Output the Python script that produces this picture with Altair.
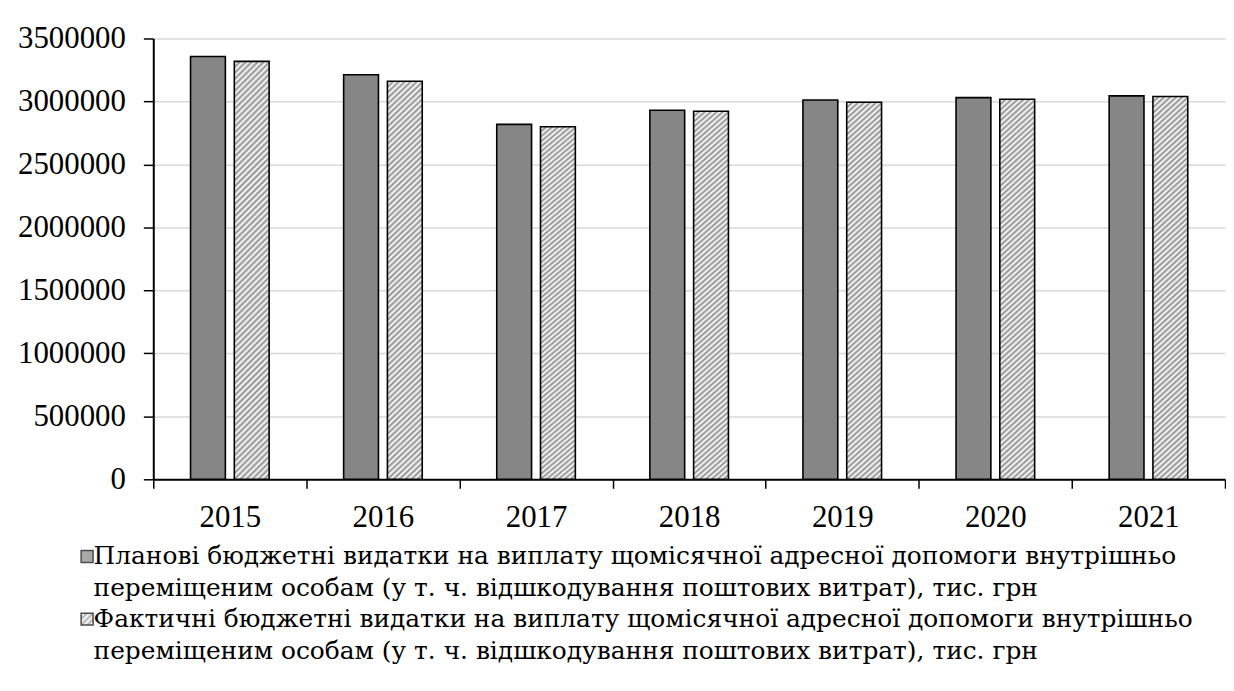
import altair as alt
import pandas as pd

years = ["2015", "2016", "2017", "2018", "2019", "2020", "2021"]
plan = [3357000, 3212000, 2818000, 2930000, 3012000, 3030000, 3044000]
fact = [3318000, 3160000, 2799000, 2922000, 2994000, 3017000, 3039000]
series_names = [
    "Планові бюджетні видатки на виплату щомісячної адресної допомоги внутрішньо\nпереміщеним особам (у т. ч. відшкодування поштових витрат), тис. грн",
    "Фактичні бюджетні видатки на виплату щомісячної адресної допомоги внутрішньо\nпереміщеним особам (у т. ч. відшкодування поштових витрат), тис. грн",
]
keys = ["plan", "fact"]
y_ticks = [0, 500000, 1000000, 1500000, 2000000, 2500000, 3000000, 3500000]

rows = []
for i, y in enumerate(years):
    rows.append({"year": y, "key": keys[0], "series": series_names[0], "value": plan[i]})
    rows.append({"year": y, "key": keys[1], "series": series_names[1], "value": fact[i]})
df = pd.DataFrame(rows)

FONT = "Liberation Serif"
LEG_FONT = "DejaVu Serif"
DOT_GRAY = "#868686"
STRIPE_GRAY = "#8e8e8e"

# diagonal stripe gradient for the tall bars (style only)
bw, bh, period = 35.0, 420.0, 6.0
r = bw / bh
c = (1 + r) / (1 + r * r)
P = period / (bw + bh)
stops = []
k = 0
while k * P / 2 <= 1:
    stops.append({"offset": round(k * P / 2, 5), "color": STRIPE_GRAY if k % 2 == 0 else "#ffffff"})
    k += 1
bar_grad = {"gradient": "linear", "x1": 0, "y1": 0, "x2": round(c * r, 5), "y2": round(c, 5), "stops": stops}

# stripe gradient for the small legend square
lstops = []
for j in range(9):
    lstops.append("{offset:%s,color:'%s'}" % (j / 8, STRIPE_GRAY if j % 2 == 0 else "#ffffff"))
leg_grad_expr = "{gradient:'linear',x1:0,y1:0,x2:1,y2:1,stops:[" + ",".join(lstops) + "]}"

x_enc = alt.X("year:N", title=None,
              scale=alt.Scale(paddingInner=0, paddingOuter=0),
              axis=alt.Axis(labelAngle=0, tickBand="extent", tickSize=9, tickWidth=1.5,
                            domainColor="black", domainWidth=2, tickColor="black",
                            labelFont=FONT, labelFontSize=31, labelColor="black",
                            labelPadding=14, grid=False))
xo_enc = alt.XOffset("key:N", scale=alt.Scale(domain=keys, paddingInner=0.2045, paddingOuter=0.851))
y_enc = alt.Y("value:Q", title=None,
              scale=alt.Scale(domain=[0, 3500000], nice=False),
              axis=alt.Axis(values=y_ticks, format="d", tickSize=10, tickWidth=1.5,
                            domainColor="black", domainWidth=2, tickColor="black",
                            labelFont=FONT, labelFontSize=31, labelColor="black",
                            labelPadding=18, gridColor="#d9d9d9", gridWidth=1.5))

bars = alt.Chart(df).mark_bar(stroke="black", strokeWidth=1.6).encode(
    x=x_enc, xOffset=xo_enc, y=y_enc,
    fill=alt.condition("datum.key === 'plan'", alt.value(DOT_GRAY), alt.value(bar_grad)),
)

legend_layer = alt.Chart(df).transform_filter("false").mark_point(
    shape="square", filled=True, stroke="black", strokeWidth=1.5
).encode(
    x=alt.X("year:N"), xOffset=alt.XOffset("key:N"), y=alt.Y("value:Q"),
    fill=alt.Fill("series:N",
                  scale=alt.Scale(domain=series_names, range=[DOT_GRAY, {"expr": leg_grad_expr}]),
                  legend=alt.Legend(title=None, orient="none", legendX=-79, legendY=508,
                                    direction="vertical", symbolType="square", symbolSize=144,
                                    symbolStrokeColor="black", symbolStrokeWidth=1.5,
                                    labelFont=LEG_FONT, labelFontSize=25, labelColor="black",
                                    labelLimit=1300, labelBaseline="middle",
                                    labelOffset={"expr": "-6"},
                                    rowPadding=5,
                                    labelExpr="split(datum.label, '\\n')")),
)

chart = alt.layer(bars, legend_layer).properties(
    width=1077, height=443,
    padding={"left": 9, "top": 13, "right": 0, "bottom": 0},
).configure(
    style={"guide-label": {"lineHeight": 32}},
).configure_view(stroke=None)

chart.save("out.html", embed_options={"renderer": "svg", "actions": False})
